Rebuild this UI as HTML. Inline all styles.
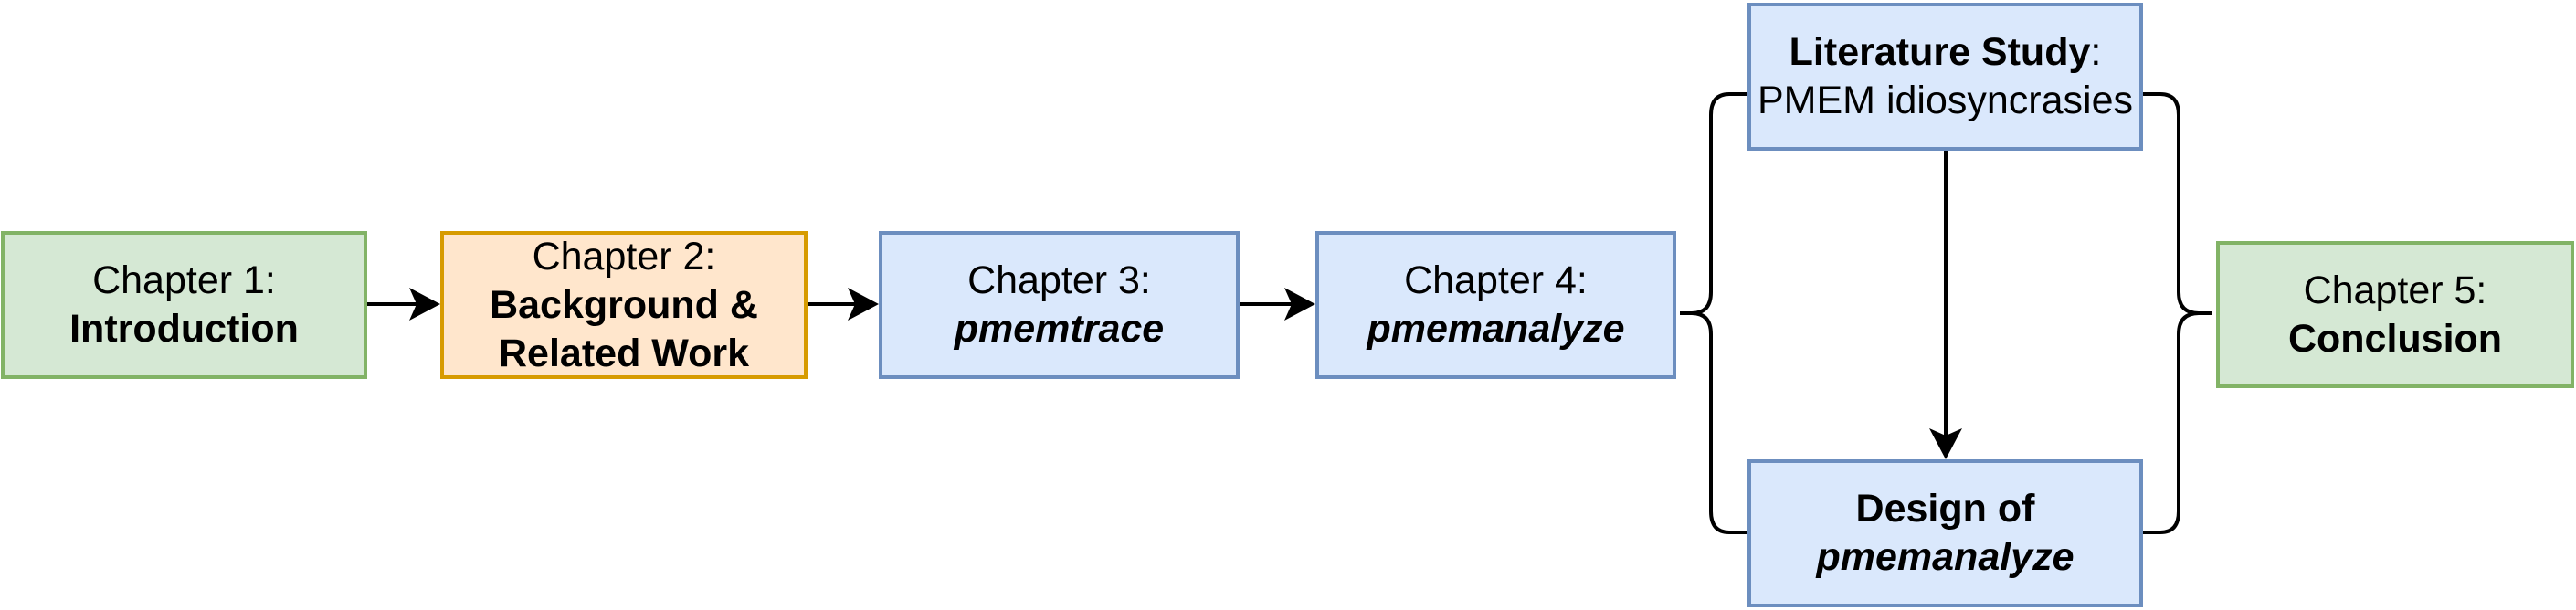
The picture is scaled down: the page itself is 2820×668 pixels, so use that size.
<!DOCTYPE html>
<html><head><meta charset="utf-8"><style>
html,body{margin:0;padding:0;background:#fff;}
body{width:2820px;height:668px;position:relative;overflow:hidden;font-family:"Liberation Sans",Arial,sans-serif;}
.b{position:absolute;box-sizing:border-box;border:4px solid;display:flex;flex-direction:column;align-items:center;justify-content:center;text-align:center;font-size:43px;line-height:53px;color:#000;white-space:nowrap;}
.g{background:#d5e8d4;border-color:#82b366;}
.o{background:#ffe6cc;border-color:#d79b00;}
.bl{background:#dae8fc;border-color:#6c8ebf;}
b{font-weight:bold;}
svg{position:absolute;left:0;top:0;}
</style></head><body>
<svg width="2820" height="668">
<g stroke="#000" stroke-width="4" fill="none">
<line x1="401" y1="333" x2="462" y2="333"/>
<line x1="883" y1="333" x2="942" y2="333"/>
<line x1="1356" y1="333" x2="1420" y2="333"/>
<line x1="2130" y1="164" x2="2130" y2="480"/>
<path d="M1839 343 H1852 Q1873 343 1873 320 V126 Q1873 103 1893 103 H1914"/>
<path d="M1839 343 H1852 Q1873 343 1873 366 V560 Q1873 583 1893 583 H1914"/>
<path d="M2421 343 H2407 Q2385 343 2385 320 V126 Q2385 103 2365 103 H2345"/>
<path d="M2421 343 H2407 Q2385 343 2385 366 V560 Q2385 583 2365 583 H2345"/>
</g>
<g fill="#000">
<path d="M482 333 L448 315 L456 333 L448 351Z"/>
<path d="M962 333 L928 315 L936 333 L928 351Z"/>
<path d="M1440 333 L1406 315 L1414 333 L1406 351Z"/>
<path d="M2130 503 L2112 469 L2130 477 L2148 469Z"/>
</g>
</svg>
<div class="b g" style="left:1px;top:253px;width:401px;height:162px;"><div>Chapter 1:</div><div><b>Introduction</b></div></div>
<div class="b o" style="left:482px;top:253px;width:402px;height:162px;"><div>Chapter 2:</div><div><b>Background &amp;</b></div><div><b>Related Work</b></div></div>
<div class="b bl" style="left:962px;top:253px;width:395px;height:162px;"><div>Chapter 3:</div><div><b><i>pmemtrace</i></b></div></div>
<div class="b bl" style="left:1440px;top:253px;width:395px;height:162px;"><div>Chapter 4:</div><div><b><i>pmemanalyze</i></b></div></div>
<div class="b bl" style="left:1913px;top:3px;width:433px;height:162px;"><div><b>Literature Study</b>:</div><div>PMEM idiosyncrasies</div></div>
<div class="b bl" style="left:1913px;top:503px;width:433px;height:162px;"><div><b>Design of</b></div><div><b><i>pmemanalyze</i></b></div></div>
<div class="b g" style="left:2426px;top:264px;width:392px;height:161px;"><div>Chapter 5:</div><div><b>Conclusion</b></div></div>
</body></html>
